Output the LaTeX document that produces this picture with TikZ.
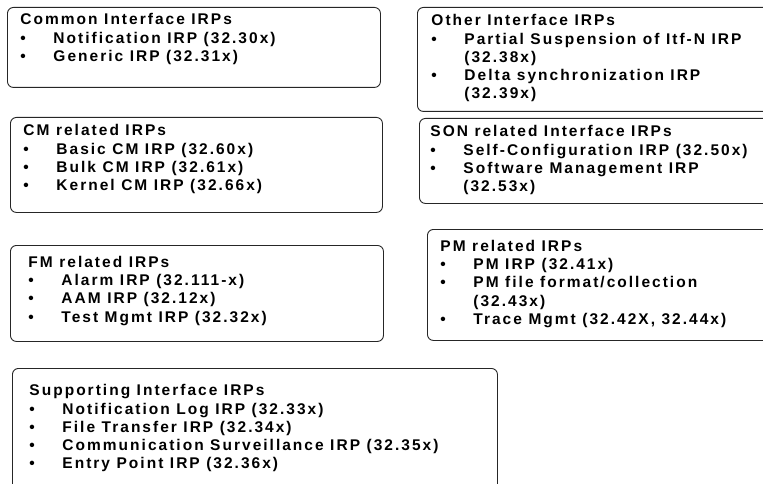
\documentclass[tikz,border=0pt]{standalone}
\usepackage{fontspec}
\setmainfont{Liberation Sans}[LetterSpace=13]
\usetikzlibrary{positioning}

\newlength{\irpindent}
\setlength{\irpindent}{33pt}
\newcommand{\irpitem}[1]{\par\noindent\makebox[\irpindent][l]{\textbullet}#1}
\newcommand{\irpmore}[1]{\par\noindent\hspace*{\irpindent}#1}

\begin{document}
\begin{tikzpicture}[x=1pt,y=-1pt,every node/.style={anchor=north west}]
	\tikzstyle{irpbox}=[draw=black!85,line width=0.9pt,rounded corners=6pt,
		align=left,inner ysep=0pt,inner xsep=13pt,
		font=\bfseries\fontsize{15.5}{18.2}\selectfont,
		execute at begin node={\spaceskip=6.5pt\relax}]
	
	\useasboundingbox (0,0) rectangle (763,484);
	\clip (0,0) rectangle (763,484);
	
	% left column
	\node[irpbox,text width=347pt,text height=17.5pt,text depth=62.5pt] (common) at (7,7)
		{Common Interface IRPs
		\irpitem{Notification IRP (32.30x)}
		\irpitem{Generic IRP (32.31x)}};
	\node[irpbox,text width=346pt,text height=18.5pt,text depth=76.5pt] (cm) at (10,117)
		{CM related IRPs
		\irpitem{Basic CM IRP (32.60x)}
		\irpitem{Bulk CM IRP (32.61x)}
		\irpitem{Kernel CM IRP (32.66x)}};
	\node[irpbox,inner xsep=18pt,text width=337pt,text height=22pt,text depth=74pt] (fm) at (10,245)
		{FM related IRPs
		\irpitem{Alarm IRP (32.111-x)}
		\irpitem{AAM IRP (32.12x)}
		\irpitem{Test Mgmt IRP (32.32x)}};
	\node[irpbox,inner xsep=17pt,text width=451pt,text height=27.5pt,text depth=124.5pt] (supp) at (12,368)
		{Supporting Interface IRPs
		\irpitem{Notification Log IRP (32.33x)}
		\irpitem{File Transfer IRP (32.34x)}
		\irpitem{Communication Surveillance IRP (32.35x)}
		\irpitem{Entry Point IRP (32.36x)}};
	
	% right column
	\node[irpbox,inner xsep=14pt,text width=345pt,text height=18.5pt,text depth=85.5pt] (other) at (417,7)
		{Other Interface IRPs
		\irpitem{Partial Suspension of Itf-N IRP}
		\irpmore{(32.38x)}
		\irpitem{Delta synchronization IRP}
		\irpmore{(32.39x)}};
	\node[irpbox,inner xsep=11pt,text width=349pt,text height=18.5pt,text depth=66.5pt] (son) at (419,118)
		{SON related Interface IRPs
		\irpitem{Self-Configuration IRP (32.50x)}
		\irpitem{Software Management IRP}
		\irpmore{(32.53x)}};
	\node[irpbox,text width=337pt,text height=22pt,text depth=89pt] (pm) at (427,229)
		{PM related IRPs
		\irpitem{PM IRP (32.41x)}
		\irpitem{PM file format/collection}
		\irpmore{(32.43x)}
		\irpitem{Trace Mgmt (32.42X, 32.44x)}};
	
\end{tikzpicture}
\end{document}
